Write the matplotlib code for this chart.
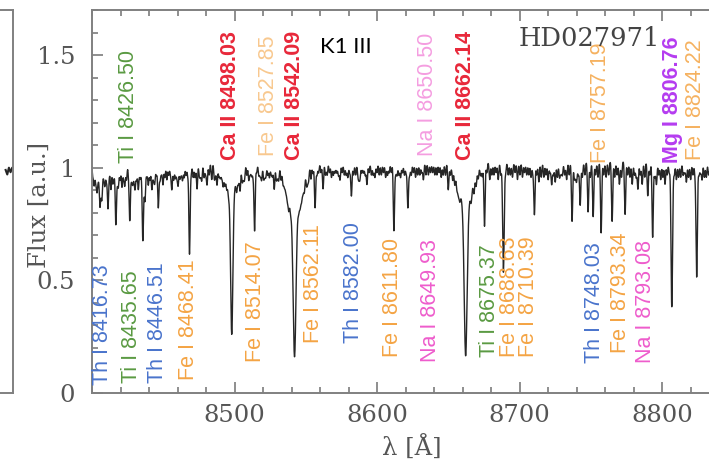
import numpy as np
import matplotlib
matplotlib.use("Agg")
import matplotlib.pyplot as plt
from matplotlib.ticker import MultipleLocator

# ---------------- data ----------------
# strong absorption lines: centre [A], depth, gaussian sigma [A]
strong_wl = [8498.03, 8498.03, 8542.09, 8542.09, 8662.14, 8662.14,
             8806.76, 8824.22, 8688.63, 8468.41]
strong_depth = [0.71, 0.13, 0.80, 0.22, 0.80, 0.20, 0.63, 0.50, 0.48, 0.40]
strong_sigma = [0.8, 3.5, 1.0, 4.5, 1.0, 4.5, 0.55, 0.5, 0.55, 0.45]

# weaker absorption lines: centre [A], depth
weak_wl = [8401.5, 8403.5, 8405.5, 8407.0, 8409.0, 8411.2, 8413.3, 8416.73,
           8418.5, 8421.0, 8423.0, 8426.50, 8428.5, 8430.2, 8432.5, 8435.65,
           8437.2, 8439.5, 8442.0, 8444.0, 8446.51, 8449.8, 8452.5, 8456.0,
           8458.5, 8460.4, 8463.5, 8466.0, 8471.0, 8473.7, 8477.0, 8480.7,
           8484.0, 8487.7, 8490.0, 8492.0, 8494.5, 8503.9, 8507.0, 8510.0,
           8512.0, 8514.07, 8517.0, 8519.0, 8522.0, 8524.5, 8527.85, 8531.0,
           8534.0, 8536.0, 8538.0, 8547.0, 8549.0, 8552.0, 8556.5, 8559.0,
           8562.1, 8565.0, 8568.0, 8570.5, 8574.0, 8577.0, 8579.5, 8582.0,
           8585.0, 8588.0, 8590.5, 8592.9, 8596.0, 8598.5, 8603.0, 8606.0,
           8608.5, 8611.80, 8614.0, 8616.5, 8621.6, 8624.0, 8627.0, 8630.0,
           8632.5, 8636.0, 8639.0, 8642.0, 8645.0, 8648.0, 8649.93, 8653.0,
           8656.0, 8658.0, 8668.0, 8671.0, 8675.37, 8679.0, 8682.0, 8685.0,
           8692.0, 8695.0, 8698.5, 8702.0, 8705.0, 8708.0, 8710.39, 8713.5,
           8717.0, 8720.0, 8722.5, 8725.0, 8728.0, 8730.0, 8736.8, 8740.0,
           8742.5, 8748.03, 8751.6, 8757.19, 8764.9, 8770.0, 8774.0, 8779.0,
           8783.0, 8786.0, 8789.9, 8793.34, 8796.0, 8799.0, 8802.0, 8810.0,
           8813.0, 8817.0, 8820.0, 8828.0, 8831.0, 8834.0, 8838.0, 8842.0,
           8846.0]
weak_depth = [0.10, 0.12, 0.18, 0.14, 0.10, 0.20, 0.12, 0.27,
              0.10, 0.11, 0.10, 0.25, 0.09, 0.11, 0.12, 0.33,
              0.16, 0.10, 0.12, 0.09, 0.20, 0.10, 0.08, 0.12,
              0.07, 0.10, 0.08, 0.06, 0.07, 0.12, 0.08, 0.10,
              0.08, 0.10, 0.06, 0.08, 0.05, 0.10, 0.07, 0.08,
              0.06, 0.30, 0.06, 0.08, 0.06, 0.07, 0.12, 0.07,
              0.06, 0.05, 0.08, 0.06, 0.07, 0.06, 0.20, 0.05,
              0.12, 0.06, 0.07, 0.05, 0.08, 0.06, 0.07, 0.15,
              0.06, 0.07, 0.05, 0.10, 0.06, 0.07, 0.06, 0.07,
              0.05, 0.30, 0.06, 0.07, 0.20, 0.06, 0.07, 0.06,
              0.08, 0.06, 0.05, 0.06, 0.07, 0.06, 0.12, 0.06,
              0.05, 0.05, 0.06, 0.05, 0.28, 0.08, 0.06, 0.08,
              0.06, 0.07, 0.08, 0.07, 0.06, 0.07, 0.23, 0.09,
              0.07, 0.08, 0.10, 0.09, 0.07, 0.06, 0.26, 0.08,
              0.19, 0.22, 0.24, 0.31, 0.26, 0.10, 0.23, 0.10,
              0.12, 0.10, 0.15, 0.33, 0.10, 0.08, 0.10, 0.08,
              0.07, 0.09, 0.08, 0.08, 0.07, 0.10, 0.08, 0.07,
              0.06]

# very weak blends filling the pseudo-continuum: centre [A], depth
blend_wl = [8400.5, 8402.6, 8404.4, 8406.3, 8408.1, 8410.1, 8412.2, 8414.6,
            8415.5, 8417.7, 8419.7, 8422.1, 8424.2, 8425.6, 8427.6, 8429.4,
            8431.3, 8433.7, 8434.6, 8436.4, 8438.4, 8440.7, 8443.1, 8445.2,
            8447.7, 8448.7, 8451.1, 8453.8, 8455.0, 8457.3, 8459.5, 8461.6,
            8462.5, 8464.7, 8467.2, 8469.6, 8472.3, 8475.3, 8476.1, 8478.6,
            8479.7, 8482.2, 8485.8, 8486.6, 8489.0, 8491.0, 8493.2, 8495.8,
            8501.5, 8502.7, 8505.4, 8506.2, 8508.6, 8511.0, 8513.0, 8515.5,
            8518.0, 8520.4, 8521.2, 8523.3, 8525.7, 8526.6, 8529.3, 8530.1,
            8532.6, 8535.0, 8537.0, 8539.3, 8545.0, 8546.0, 8548.0, 8550.5,
            8551.2, 8553.6, 8555.0, 8557.8, 8560.6, 8563.8, 8566.6, 8569.3,
            8571.7, 8572.9, 8575.5, 8578.3, 8580.8, 8583.5, 8586.5, 8587.2,
            8589.3, 8591.7, 8594.4, 8597.3, 8599.9, 8601.5, 8604.5, 8607.3,
            8610.0, 8613.0, 8615.3, 8617.8, 8619.2, 8620.4, 8622.8, 8625.5,
            8628.5, 8631.3, 8634.3, 8637.5, 8640.5, 8643.5, 8646.4, 8651.4,
            8654.5, 8657.0, 8666.0, 8669.5, 8672.6, 8673.8, 8677.0, 8680.5,
            8683.5, 8686.8, 8690.2, 8693.5, 8696.8, 8700.2, 8703.5, 8706.5,
            8709.3, 8712.0, 8715.2, 8718.5, 8721.3, 8723.7, 8726.5, 8729.0,
            8731.6, 8733.0, 8734.8, 8738.4, 8739.2, 8741.2, 8744.0, 8745.8,
            8749.6, 8753.3, 8755.0, 8759.0, 8760.7, 8762.5, 8766.7, 8768.4,
            8771.5, 8775.8, 8777.4, 8780.6, 8781.8, 8784.6, 8787.8, 8791.4,
            8794.8, 8797.6, 8800.5, 8803.5, 8805.0, 8808.5, 8811.5, 8814.7,
            8815.8, 8818.5, 8821.6, 8823.0, 8825.8, 8826.9, 8829.6, 8832.6,
            8835.8, 8837.0, 8839.6, 8840.8, 8843.6, 8844.8, 8847.5, 8849.0]
blend_depth = [0.06, 0.08, 0.07, 0.09, 0.06, 0.08, 0.05, 0.09,
               0.06, 0.07, 0.08, 0.06, 0.08, 0.05, 0.07, 0.06,
               0.08, 0.07, 0.05, 0.07, 0.06, 0.08, 0.07, 0.06,
               0.08, 0.05, 0.07, 0.06, 0.05, 0.08, 0.06, 0.07,
               0.05, 0.07, 0.06, 0.05, 0.07, 0.06, 0.05, 0.07,
               0.05, 0.06, 0.07, 0.05, 0.06, 0.05, 0.06, 0.05,
               0.06, 0.05, 0.07, 0.05, 0.06, 0.05, 0.06, 0.05,
               0.06, 0.07, 0.05, 0.06, 0.05, 0.06, 0.07, 0.05,
               0.06, 0.05, 0.06, 0.05, 0.05, 0.06, 0.05, 0.06,
               0.05, 0.07, 0.05, 0.06, 0.05, 0.06, 0.05, 0.06,
               0.05, 0.06, 0.05, 0.06, 0.05, 0.06, 0.05, 0.06,
               0.05, 0.06, 0.05, 0.06, 0.05, 0.06, 0.05, 0.06,
               0.05, 0.05, 0.06, 0.05, 0.06, 0.05, 0.06, 0.05,
               0.06, 0.05, 0.06, 0.05, 0.06, 0.05, 0.06, 0.05,
               0.06, 0.05, 0.05, 0.06, 0.05, 0.06, 0.05, 0.06,
               0.05, 0.06, 0.05, 0.06, 0.05, 0.06, 0.05, 0.06,
               0.05, 0.06, 0.07, 0.06, 0.05, 0.06, 0.07, 0.05,
               0.06, 0.08, 0.06, 0.07, 0.05, 0.06, 0.07, 0.06,
               0.07, 0.06, 0.07, 0.06, 0.07, 0.06, 0.07, 0.06,
               0.07, 0.06, 0.07, 0.06, 0.07, 0.06, 0.07, 0.06,
               0.07, 0.06, 0.07, 0.06, 0.05, 0.06, 0.07, 0.06,
               0.05, 0.07, 0.06, 0.05, 0.06, 0.05, 0.07, 0.06,
               0.07, 0.05, 0.06, 0.05, 0.06, 0.05, 0.06, 0.05]

continuum_level = 1.03

# tail of the neighbouring panel (left edge)
left_wl = [8840, 8842, 8844, 8846, 8848, 8850]
left_flux = [0.99, 0.97, 1.00, 0.98, 1.00, 0.99]

# axis ticks
x_ticks = [8500, 8600, 8700, 8800]
y_ticks = [0, 0.5, 1, 1.5]
y_ticklabels = ["0", "0.5", "1", "1.5"]

# line identifications
upper_text = ["Ti I 8426.50", "Ca II 8498.03", "Fe I 8527.85", "Ca II 8542.09",
              "Na I 8650.50", "Ca II 8662.14", "Fe I 8757.19", "Mg I 8806.76",
              "Fe I 8824.22"]
upper_elem = ["Ti", "Ca", "Fe", "Ca", "Na", "Ca", "Fe", "Mg", "Fe"]
lower_text = ["Th I 8416.73", "Ti I 8435.65", "Th I 8446.51", "Fe I 8468.41",
              "Fe I 8514.07", "Fe I 8562.11", "Th I 8582.00", "Fe I 8611.80",
              "Na I 8649.93", "Ti I 8675.37", "Fe I 8688.63\nFe I 8710.39",
              "Th I 8748.03", "Fe I 8793.34", "Na I 8793.08"]
lower_elem = ["Th", "Ti", "Th", "Fe", "Fe", "Fe", "Th", "Fe", "Na", "Ti", "Fe",
              "Th", "Fe", "Na"]

# label placement (layout)
upper_x = [8425.3, 8497.5, 8523.5, 8541.8, 8635.1, 8661.8, 8756.5, 8807.0, 8823.2]
upper_y = [1.02, 1.036, 1.05, 1.036, 1.05, 1.036, 1.02, 1.02, 1.036]
upper_alpha = [1, 1, 0.6, 1, 0.6, 1, 0.85, 1, 0.85]
lower_x = [8407.7, 8427.4, 8446.3, 8467.4, 8514.4, 8555.1, 8583.2, 8610.5,
           8637.2, 8678.6, 8699.6, 8752.3, 8770.5, 8788.1]
lower_y = [0.036, 0.044, 0.044, 0.058, 0.138, 0.222, 0.222, 0.16,
           0.138, 0.16, 0.16, 0.133, 0.178, 0.133]

colors = {"Th": "#4a74cc", "Ti": "#5a9a42", "Fe": "#f4a444",
          "Ca": "#e8283a", "Na": "#ee5ccc", "Mg": "#b53cf0"}
bold = {"Ca", "Mg"}

# ---------------- spectrum ----------------
wl = np.arange(8395.0, 8860.0, 0.1)
flux = np.full_like(wl, continuum_level)
for c, d, s in zip(strong_wl, strong_depth, strong_sigma):
    flux *= 1 - d * np.exp(-0.5 * ((wl - c) / s) ** 2)
for c, d in zip(weak_wl, weak_depth):
    flux *= 1 - d * np.exp(-0.5 * ((wl - c) / 0.45) ** 2)
for c, d in zip(blend_wl, blend_depth):
    flux *= 1 - d * np.exp(-0.5 * ((wl - c) / 0.45) ** 2)

# ---------------- figure ----------------
serif = "DejaVu Serif"
fig = plt.figure(figsize=(7.09, 4.67), dpi=100)

W, H = 709.0, 467.0
ax = fig.add_axes([92 / W, (H - 393) / H, 640 / W, 383 / H])
ax.plot(wl, flux, color="#262626", lw=1.0)
ax.set_xlim(8400, 8849)
ax.set_ylim(0, 1.70)

for sp in ax.spines.values():
    sp.set_color("#808080")
    sp.set_linewidth(1.4)
ax.set_xticks(x_ticks)
ax.xaxis.set_minor_locator(MultipleLocator(20))
ax.set_yticks(y_ticks)
ax.set_yticklabels(y_ticklabels)
ax.yaxis.set_minor_locator(MultipleLocator(0.1))
ax.tick_params(which="both", direction="in", top=True, right=True,
               color="#707070", width=1.1)
ax.tick_params(which="major", length=8, labelsize=17.5, labelcolor="#555555")
ax.tick_params(which="minor", length=4)
ax.tick_params(axis="x", which="major", pad=8)
ax.tick_params(axis="y", which="major", pad=12)
for lab in ax.get_xticklabels() + ax.get_yticklabels():
    lab.set_family(serif)

ax.set_ylabel("Flux [a.u.]", fontsize=17.5, family=serif, color="#555555")
ax.yaxis.set_label_coords(-0.064, 0.49)
ax.set_xlabel("λ [Å]", fontsize=17.5, family=serif, color="#555555")
ax.xaxis.set_label_coords(0.5, -0.112)

for t, e, x, y, a in zip(upper_text, upper_elem, upper_x, upper_y, upper_alpha):
    ax.text(x, y, t, rotation=90, ha="center", va="bottom", fontsize=15.5,
            color=colors[e], family="Liberation Sans", alpha=a,
            fontweight="bold" if e in bold else "normal")
for t, e, x, y in zip(lower_text, lower_elem, lower_x, lower_y):
    ax.text(x, y, t, rotation=90, ha="center", va="bottom", fontsize=15.5,
            color=colors[e], family="Liberation Sans", linespacing=0.9,
            multialignment="center")

fig.text(660 / W, 1 - 38 / H, "HD027971", ha="right", va="center",
         fontsize=18.5, family=serif, color="#444444")
fig.text(320 / W, 1 - 47 / H, "K1 III", fontsize=16, family="Lato",
         color="black", ha="left", va="center")

# neighbouring panel on the left edge
ax2 = fig.add_axes([-0.5, (H - 393) / H, 0.5 + 13 / W, 383 / H])
ax2.plot(left_wl, left_flux, color="#262626", lw=1.5)
ax2.set_xlim(8400, 8849)
ax2.set_ylim(0, 1.70)
for sp in ax2.spines.values():
    sp.set_color("#808080")
    sp.set_linewidth(1.4)
ax2.tick_params(which="both", direction="in", labelleft=False,
                labelbottom=False, left=False, bottom=False)

fig.savefig("out.png", dpi=100)
